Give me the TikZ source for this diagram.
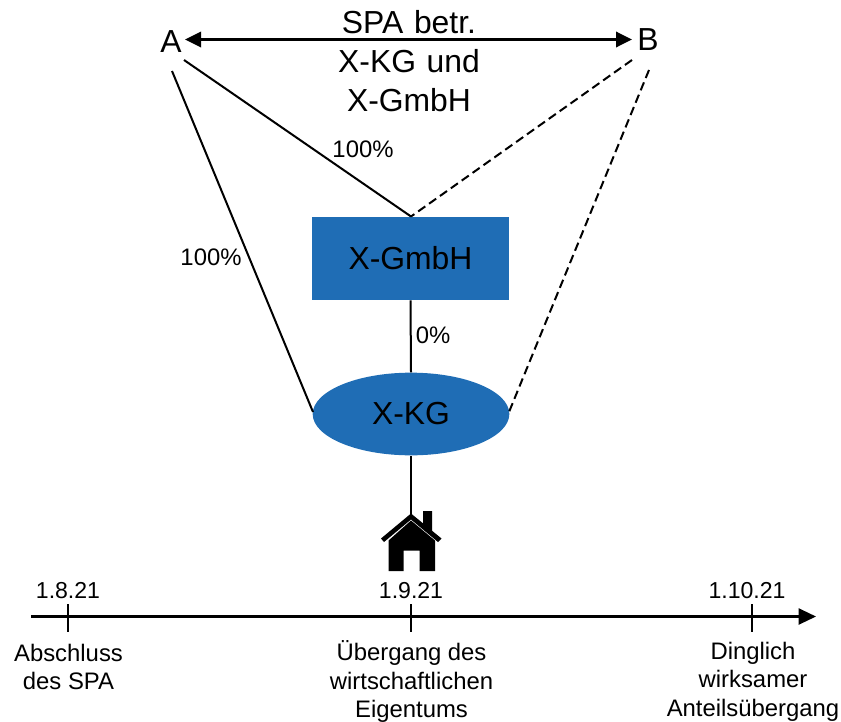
\documentclass[tikz,border=0pt]{standalone}
\usepackage{fontspec}
\setmainfont{Liberation Sans}
\usetikzlibrary{arrows.meta,shapes.geometric}
\definecolor{xblue}{HTML}{1F6DB5}
\tikzset{
  big/.style={font=\fontsize{23.9}{29}\selectfont,inner sep=0pt,align=center},
  small/.style={font=\fontsize{17.9}{23}\selectfont,inner sep=0pt,align=center},
  datelabel/.style={small,font=\fontsize{17.3}{23}\selectfont},
  multi/.style={small,font=\fontsize{17.9}{21.5}\selectfont},
  link/.style={line width=1.5pt,black},
  dlink/.style={line width=1.5pt,black,dash pattern=on 6.5pt off 3.5pt},
  tick/.style={line width=1.3pt,black},
}
\begin{document}
\begin{tikzpicture}[x=0.75pt,y=-0.75pt]
\useasboundingbox (0,0) rectangle (841,721);
% labels
\node[big] (A) at (171,42) {A};
\node[big] (B) at (648,40) {B};
\node[big,text width=200pt,font=\fontsize{23.9}{29.3}\selectfont] (spa) at (409,61) {SPA betr.\\X-KG und\\X-GmbH};
% shapes
\node[fill=xblue,minimum width=148pt,minimum height=62.5pt,inner sep=0pt,big] (gmbh) at (410.5,258.5) {X-GmbH};
\node[ellipse,fill=xblue,minimum width=147.5pt,minimum height=62pt,inner sep=0pt,big] (kg) at (411,414) {X-KG};
% free ends
\coordinate (a1) at (184,60);
\coordinate (a2) at (172,71);
\coordinate (b1) at (632,60);
\coordinate (b2) at (649,70);
\coordinate (gt) at (411,216.5);
\coordinate (kl) at (313,412);
\coordinate (kr) at (509,412);
\coordinate (kb) at (411,456);
\coordinate (hs) at (411,515);
% connectors
\draw[line width=1.8pt,{Triangle[length=12pt,width=11.5pt]}-{Triangle[length=12pt,width=11.5pt]}] (185,39.5) -- (632,39.5);
\draw[link] (a1) -- (gt);
\draw[dlink] (b1) -- (gt);
\draw[link] (a2) -- (kl);
\draw[dlink] (b2) -- (kr);
\draw[link] (gmbh.south) -- (kg.north);
\draw[link] (kb) -- (hs);
% percents
\node[small] (p1) at (363,149.5) {100\%};
\node[small] (p2) at (211,257) {100\%};
\node[small] (p3) at (433,335.5) {0\%};
% house
\fill[black] (423,511) -- (432,511) -- (432,532) -- (423,525) -- cycle;
\fill[black] (411,513.5) -- (381,538.5) -- (384,542) -- (411,519.5) -- (438,542) -- (441.5,538.5) -- cycle;
\fill[black] (411,520.5) -- (435,540.5) -- (435,571) -- (419.5,571) -- (419.5,550.5) -- (403.5,550.5) -- (403.5,571) -- (388.5,571) -- (388.5,540.5) -- cycle;
% timeline
\coordinate (tl) at (31,616.5);
\coordinate (tr) at (816,616.5);
\draw[line width=1.6pt,-{Triangle[length=13pt,width=12pt]}] (tl) -- (tr);
\node[datelabel] (d1) at (68,591) {1.8.21};
\node[datelabel] (d2) at (411,591) {1.9.21};
\node[datelabel] (d3) at (747,591) {1.10.21};
\coordinate (t1a) at (68,604); \coordinate (t1b) at (68,632);
\coordinate (t2a) at (411,604); \coordinate (t2b) at (411,632);
\coordinate (t3a) at (752,604); \coordinate (t3b) at (752,632);
\draw[tick] (t1a) -- (t1b);
\draw[tick] (t2a) -- (t2b);
\draw[tick] (t3a) -- (t3b);
\node[multi] (l1) at (68.5,667) {Abschluss\\des SPA};
\node[multi] (l2) at (411.5,681.5) {Übergang des\\wirtschaftlichen\\Eigentums};
\node[multi] (l3) at (753,681.5) {Dinglich\\wirksamer\\Anteilsübergang};
\end{tikzpicture}
\end{document}
